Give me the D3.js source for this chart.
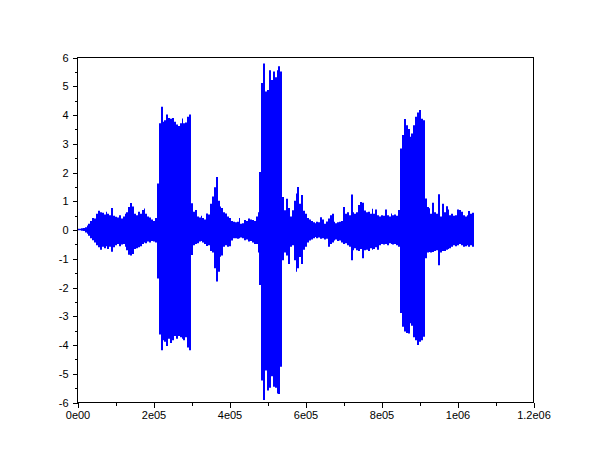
<!DOCTYPE html>
<html>
<head>
<meta charset="utf-8">
<script src="https://cdn.jsdelivr.net/npm/d3@7"></script>
<style>
  html, body { margin: 0; padding: 0; background: #ffffff; }
  svg { display: block; }
  text { font-family: "Liberation Sans", Arial, sans-serif; font-size: 11px; fill: #000; }
</style>
</head>
<body>
<svg id="chart" width="610" height="460"></svg>
<script>
// Sample spacing of the envelope readings (samples per column)
const sampleStep = 5000;

// Upper envelope (max per column)
const upperEnvelope = [
  0.03,0.03,0.04,0.05,
  0.08,0.14,0.2,0.3,0.4,0.38,
  0.55,0.65,0.6,0.58,0.52,0.62,0.55,0.5,0.75,0.48,
  0.44,0.42,0.5,0.38,0.45,0.55,0.6,0.78,0.92,0.8,
  0.55,0.5,0.62,0.55,0.68,0.73,0.55,0.45,0.42,0.35,
  0.3,0.4,1.6,3.7,4.27,3.75,3.8,4.0,3.88,3.85,
  3.88,3.75,3.65,3.6,3.7,3.86,3.7,3.72,3.92,4.0,
  0.91,0.62,0.68,0.45,0.42,0.48,0.4,0.35,0.56,0.52,
  0.9,1.15,1.47,1.83,1.0,0.8,0.75,0.6,0.56,0.45,
  0.4,0.3,0.27,0.25,0.27,0.4,0.2,0.22,0.33,0.3,
  0.38,0.35,0.33,0.3,0.45,0.6,2.0,5.1,5.77,4.8,
  4.85,5.54,5.2,5.5,5.3,5.54,5.68,5.5,1.13,0.67,
  1.07,0.75,0.45,0.67,1.0,1.25,1.48,0.9,1.2,0.65,
  0.55,0.4,0.35,0.3,0.25,0.22,0.27,0.25,0.43,0.35,
  0.2,0.28,0.38,0.5,0.55,0.27,0.22,0.25,0.27,0.3,
  0.78,0.55,0.6,0.5,1.22,0.6,0.55,0.6,0.85,0.96,
  0.93,0.66,0.6,0.62,0.55,0.72,0.55,0.7,0.5,0.45,
  0.5,0.48,0.7,0.5,0.45,0.56,0.5,0.52,0.48,0.68,
  2.82,3.29,3.84,3.63,3.5,3.23,3.34,3.63,3.92,4.07,
  4.16,3.85,3.8,1.08,0.78,0.74,0.55,0.93,0.6,0.55,
  1.23,0.45,0.9,0.6,0.81,0.7,0.5,0.55,0.48,0.5,
  0.7,0.68,0.62,0.5,0.45,0.5,0.64,0.55,0.58
];

// Lower envelope (min per column)
const lowerEnvelope = [
  -0.03,-0.03,-0.04,-0.05,
  -0.1,-0.15,-0.22,-0.3,-0.37,-0.45,
  -0.55,-0.62,-0.7,-0.6,-0.65,-0.58,-0.68,-0.6,-0.77,-0.62,
  -0.55,-0.5,-0.58,-0.52,-0.5,-0.6,-0.72,-0.88,-0.9,-0.85,
  -0.68,-0.65,-0.62,-0.58,-0.5,-0.45,-0.48,-0.42,-0.45,-0.4,
  -0.42,-0.45,-1.7,-3.65,-4.2,-3.85,-3.9,-4.05,-3.8,-3.95,
  -3.85,-3.7,-3.8,-3.7,-3.75,-3.8,-3.85,-3.75,-4.1,-4.2,
  -0.89,-0.55,-0.5,-0.48,-0.42,-0.4,-0.45,-0.5,-0.57,-0.55,
  -0.75,-0.8,-1.35,-1.81,-1.47,-0.95,-0.9,-0.6,-0.55,-0.6,
  -0.58,-0.38,-0.3,-0.3,-0.32,-0.3,-0.28,-0.3,-0.37,-0.35,
  -0.42,-0.4,-0.45,-0.5,-0.5,-0.8,-1.93,-5.25,-5.93,-4.9,
  -5.6,-5.5,-5.1,-5.47,-5.5,-5.7,-5.72,-4.77,-1.07,-0.8,
  -0.9,-1.2,-0.6,-0.55,-1.07,-1.47,-1.35,-0.96,-1.2,-0.7,
  -0.6,-0.45,-0.38,-0.35,-0.3,-0.26,-0.3,-0.28,-0.32,-0.3,
  -0.35,-0.32,-0.6,-0.5,-0.45,-0.38,-0.35,-0.4,-0.38,-0.45,
  -0.5,-0.48,-0.55,-0.6,-1.07,-0.72,-0.65,-0.72,-0.75,-0.68,
  -1.0,-0.72,-0.7,-0.75,-0.65,-0.7,-0.68,-0.62,-0.7,-0.55,
  -0.5,-0.52,-0.5,-0.55,-0.48,-0.5,-0.52,-0.5,-0.55,-0.6,
  -2.9,-3.38,-3.55,-3.6,-3.62,-3.26,-3.35,-3.75,-3.85,-4.02,
  -3.9,-3.85,-3.73,-1.0,-0.8,-0.78,-0.8,-0.78,-0.75,-0.72,
  -1.24,-0.8,-0.75,-0.75,-0.7,-0.68,-0.65,-0.6,-0.55,-0.58,
  -0.55,-0.5,-0.55,-0.6,-0.58,-0.55,-0.6,-0.55,-0.6
];

const xTickValues = [0, 200000, 400000, 600000, 800000, 1000000, 1200000];
const xTickLabels = ["0e00", "2e05", "4e05", "6e05", "8e05", "1e06", "1.2e06"];
const xMinorValues = [100000, 300000, 500000, 700000, 900000, 1100000];
const yTickValues = [-6, -5, -4, -3, -2, -1, 0, 1, 2, 3, 4, 5, 6];
const yTickLabels = ["-6", "-5", "-4", "-3", "-2", "-1", "0", "1", "2", "3", "4", "5", "6"];
const yMinorValues = [-5.5, -4.5, -3.5, -2.5, -1.5, -0.5, 0.5, 1.5, 2.5, 3.5, 4.5, 5.5];

(function draw() {
  const pLeft = 77, pRight = 533, pTop = 57, pBottom = 402;
  const svg = d3.select("#chart");

  const x = d3.scaleLinear().domain([0, 1200000]).range([pLeft, pRight]);
  const y = d3.scaleLinear().domain([-6, 6]).range([pBottom, pTop]);

  const cols = upperEnvelope.map((u, i) => ({ s: i * sampleStep, hi: u, lo: lowerEnvelope[i] }));
  const last = cols[cols.length - 1];
  cols.push({ s: cols.length * sampleStep, hi: last.hi, lo: last.lo });

  const area = d3.area()
    .x(d => Math.round(x(d.s)))
    .y0(d => y(d.lo))
    .y1(d => y(d.hi))
    .curve(d3.curveStepAfter);

  svg.append("path")
    .datum(cols)
    .attr("d", area)
    .attr("fill", "#0000ff")
    .attr("stroke", "none");

  svg.append("rect")
    .attr("x", pLeft + 0.5).attr("y", pTop + 0.5)
    .attr("width", pRight - pLeft).attr("height", pBottom - pTop)
    .attr("fill", "none").attr("stroke", "#000").attr("stroke-width", 1)
    .attr("shape-rendering", "crispEdges");

  const xAxis = d3.axisBottom(x)
    .tickValues(xTickValues)
    .tickFormat((d, i) => xTickLabels[i])
    .tickSize(5).tickPadding(4);
  const gx = svg.append("g").attr("transform", `translate(0.5,${pBottom + 0.5})`).call(xAxis);
  gx.select(".domain").remove();
  gx.selectAll("text").attr("font-size", 11).attr("font-family", "Liberation Sans, Arial, sans-serif");
  const xMinor = d3.axisBottom(x).tickValues(xMinorValues).tickFormat("").tickSize(3);
  const gxm = svg.append("g").attr("transform", `translate(0.5,${pBottom + 0.5})`).call(xMinor);
  gxm.select(".domain").remove();

  const yAxis = d3.axisLeft(y)
    .tickValues(yTickValues)
    .tickFormat((d, i) => yTickLabels[i])
    .tickSize(5).tickPadding(4);
  const gy = svg.append("g").attr("transform", `translate(${pLeft + 0.5},0.5)`).call(yAxis);
  gy.select(".domain").remove();
  gy.selectAll("text").attr("font-size", 11).attr("font-family", "Liberation Sans, Arial, sans-serif");
  const yMinor = d3.axisLeft(y).tickValues(yMinorValues).tickFormat("").tickSize(3);
  const gym = svg.append("g").attr("transform", `translate(${pLeft + 0.5},0.5)`).call(yMinor);
  gym.select(".domain").remove();

  svg.selectAll(".tick line").attr("shape-rendering", "crispEdges");
})();
</script>
</body>
</html>
